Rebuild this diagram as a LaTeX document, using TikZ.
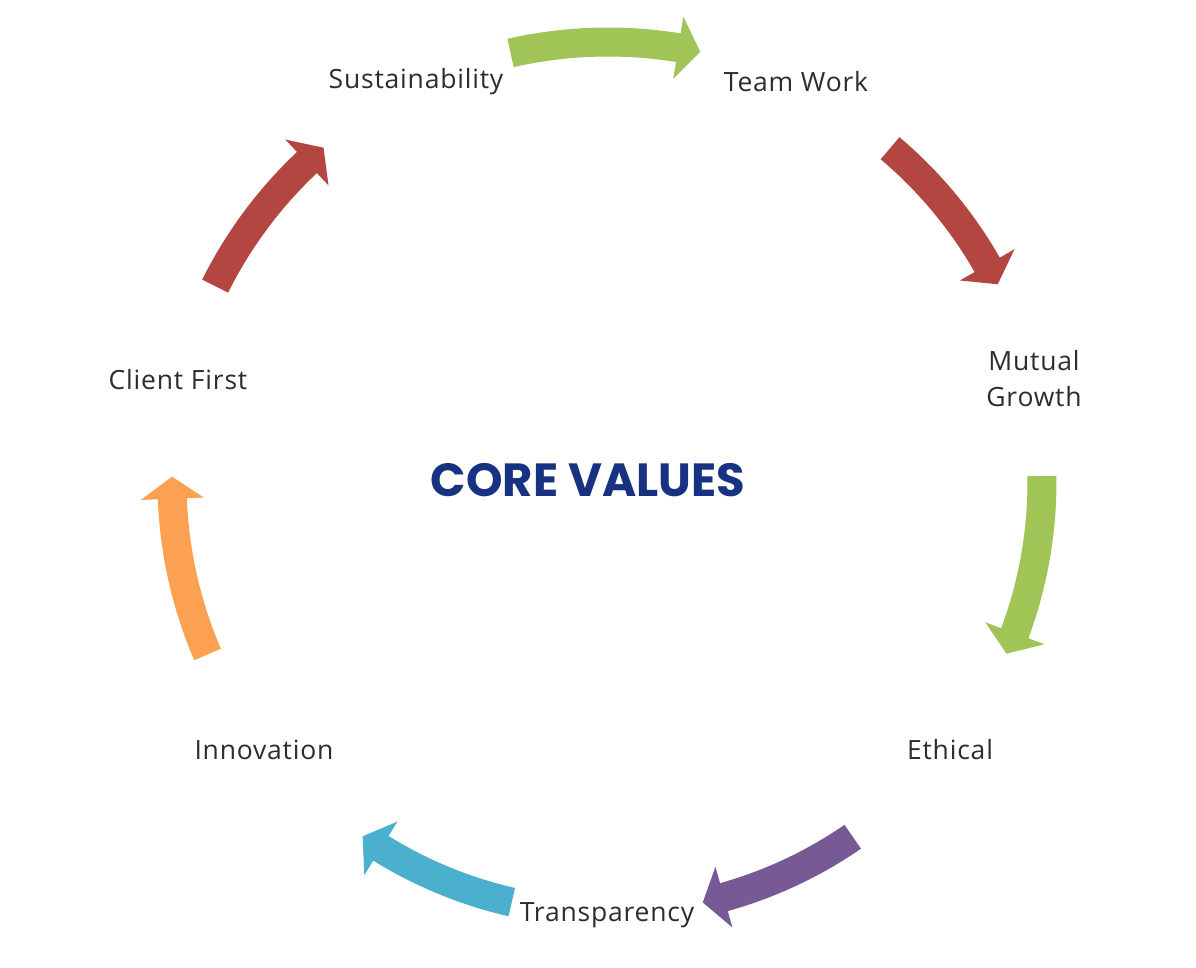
\documentclass[tikz,border=0pt]{standalone}
\usepackage{fontspec}
\setmainfont{Open Sans}[LetterSpace=3]
\newfontfamily\titlefont{Poppins}
\definecolor{cvgreen}{RGB}{161,196,86}
\definecolor{cvred}{RGB}{180,70,66}
\definecolor{cvpurple}{RGB}{119,89,150}
\definecolor{cvblue}{RGB}{75,176,206}
\definecolor{cvorange}{RGB}{252,160,82}
\definecolor{cvtitle}{RGB}{22,50,128}
\definecolor{cvtext}{RGB}{45,45,45}
\tikzset{
  lbl/.style={font=\fontsize{26.5}{36}\selectfont, text=cvtext, inner sep=0pt, align=center},
  ttl/.style={font=\titlefont\bfseries\fontsize{46.5}{50}\selectfont, text=cvtitle, inner sep=0pt}
}
% #1 colour, #2 tail angle, #3 tip angle, #4 radius
\newcommand{\cvarrow}[4]{%
  \pgfmathsetmacro{\sA}{#2}%
  \pgfmathsetmacro{\hA}{#3-2.9}%
  \pgfmathsetmacro{\eA}{#3}%
  \pgfmathsetmacro{\rO}{#4+14.5}%
  \pgfmathsetmacro{\rI}{#4-14.5}%
  \pgfmathsetmacro{\hO}{#4+31.5}%
  \pgfmathsetmacro{\hI}{#4-31.5}%
  \fill[#1] (\sA:\rO) arc[start angle=\sA, end angle=\hA, radius=\rO]
     -- (\hA:\hO) -- (\eA:#4) -- (\hA:\hI) -- (\hA:\rI)
     arc[start angle=\hA, end angle=\sA, radius=\rI] -- cycle;%
}
\begin{document}
\begin{tikzpicture}[x=1pt,y=-1pt]
\fill[white] (0,0) rectangle (1196,968);
\path[use as bounding box] (0,0) rectangle (1196,968);
\begin{scope}[shift={(608,482)}]
  \cvarrow{cvgreen}{257.2}{282.1}{440}
  \cvarrow{cvred}{310.2}{333.1}{437}
  \cvarrow{cvgreen}{359.2}{383.3}{434}
  \cvarrow{cvpurple}{415.4}{437.3}{431}
  \cvarrow{cvblue}{462.9}{484.7}{431}
  \cvarrow{cvorange}{516.7}{540.7}{436}
  \cvarrow{cvred}{566.5}{589.6}{439}
\end{scope}
\node[lbl] (sus) at (416,82) {Sustainability};
\node[lbl] (team) at (796,82) {Team Work};
\node[lbl] (mut) at (1034,379) {Mutual\\Growth};
\node[lbl] (eth) at (950,750) {Ethical};
\node[lbl] (tra) at (607,915) {Transparency};
\node[lbl] (inn) at (264,750) {Innovation};
\node[lbl] (cli) at (178,380) {Client First};
\node[ttl] (core) at (588,480) {CORE VALUES};
\end{tikzpicture}
\end{document}
